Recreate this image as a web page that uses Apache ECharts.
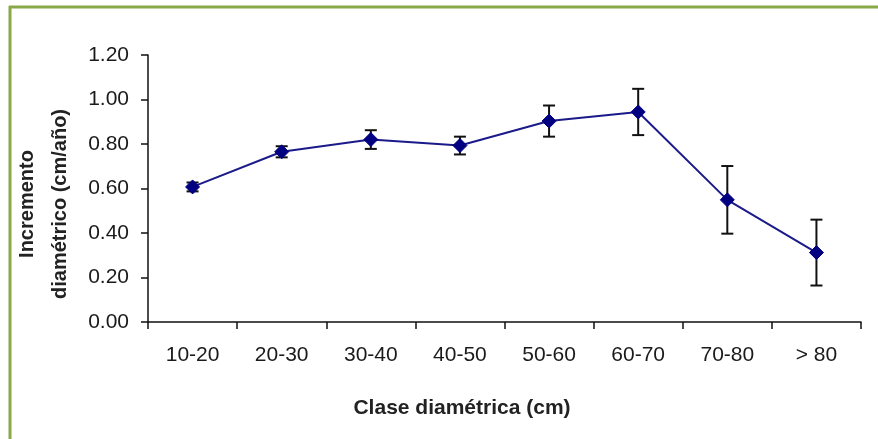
<!DOCTYPE html>
<html>
<head>
<meta charset="utf-8">
<script src="https://cdn.jsdelivr.net/npm/echarts@6/dist/echarts.min.js"></script>
<style>
html,body{margin:0;padding:0;background:#fff;}
#chart{width:878px;height:439px;}
</style>
</head>
<body>
<div id="chart"></div>
<script>
var categories = ['10-20','20-30','30-40','40-50','50-60','60-70','70-80','> 80'];
var values = [0.607, 0.765, 0.82, 0.793, 0.903, 0.944, 0.549, 0.312];
var errors = [0.02, 0.025, 0.042, 0.04, 0.07, 0.104, 0.152, 0.148];
var yTicks = { min: 0, max: 1.2, interval: 0.2 };

var errData = values.map(function(v, i){ return [i, v - errors[i], v + errors[i]]; });

var chart = echarts.init(document.getElementById('chart'));
var font = 'Liberation Sans, Arial, sans-serif';
chart.setOption({
  animation: false,
  backgroundColor: '#fff',
  grid: { left: 148, right: 17, top: 55, bottom: 117 },
  xAxis: {
    type: 'category',
    data: categories,
    boundaryGap: true,
    axisLine: { lineStyle: { color: '#111', width: 1.5 } },
    axisTick: { show: true, length: 7, inside: false, lineStyle: { color: '#111', width: 1.5 } },
    axisLabel: { color: '#1a1a1a', fontSize: 21, fontFamily: font, margin: 23 },
    splitLine: { show: false }
  },
  yAxis: {
    type: 'value',
    min: yTicks.min, max: yTicks.max, interval: yTicks.interval,
    axisLine: { show: true, lineStyle: { color: '#111', width: 1.5 } },
    axisTick: { show: true, length: 7, lineStyle: { color: '#111', width: 1.5 } },
    axisLabel: { color: '#1a1a1a', fontSize: 21, fontFamily: font, margin: 19,
      formatter: function(v){ return v.toFixed(2); } },
    splitLine: { show: false }
  },
  graphic: [
    { type: 'line', shape: { x1: 9, y1: 7, x2: 878, y2: 7 }, style: { stroke: '#88a84a', lineWidth: 3 } },
    { type: 'line', shape: { x1: 10, y1: 6, x2: 10, y2: 439 }, style: { stroke: '#88a84a', lineWidth: 3 } },
    { type: 'text', x: 462, y: 408, style: { text: 'Clase diamétrica (cm)', font: 'bold 21px ' + font, fill: '#222', align: 'center', verticalAlign: 'middle' } },
    { type: 'text', x: 27, y: 204, rotation: Math.PI/2, style: { text: 'Incremento', font: 'bold 20px ' + font, fill: '#222', align: 'center', verticalAlign: 'middle' } },
    { type: 'text', x: 60, y: 204, rotation: Math.PI/2, style: { text: 'diamétrico (cm/año)', font: 'bold 20px ' + font, fill: '#222', align: 'center', verticalAlign: 'middle' } }
  ],
  series: [
    {
      type: 'custom',
      z: 1,
      data: errData,
      renderItem: function(params, api){
        var x = api.value(0);
        var lo = api.coord([x, api.value(1)]);
        var hi = api.coord([x, api.value(2)]);
        var hw = 6;
        var st = { stroke: '#111', lineWidth: 2 };
        return { type: 'group', children: [
          { type: 'line', shape: { x1: lo[0], y1: lo[1], x2: hi[0], y2: hi[1] }, style: st },
          { type: 'line', shape: { x1: lo[0]-hw, y1: lo[1], x2: lo[0]+hw, y2: lo[1] }, style: st },
          { type: 'line', shape: { x1: hi[0]-hw, y1: hi[1], x2: hi[0]+hw, y2: hi[1] }, style: st }
        ]};
      }
    },
    {
      type: 'line',
      z: 3,
      data: values,
      symbol: 'diamond',
      symbolSize: 14,
      lineStyle: { color: '#1a1a8a', width: 2 },
      itemStyle: { color: '#000080', borderColor: '#000080' }
    }
  ]
});
</script>
</body>
</html>
